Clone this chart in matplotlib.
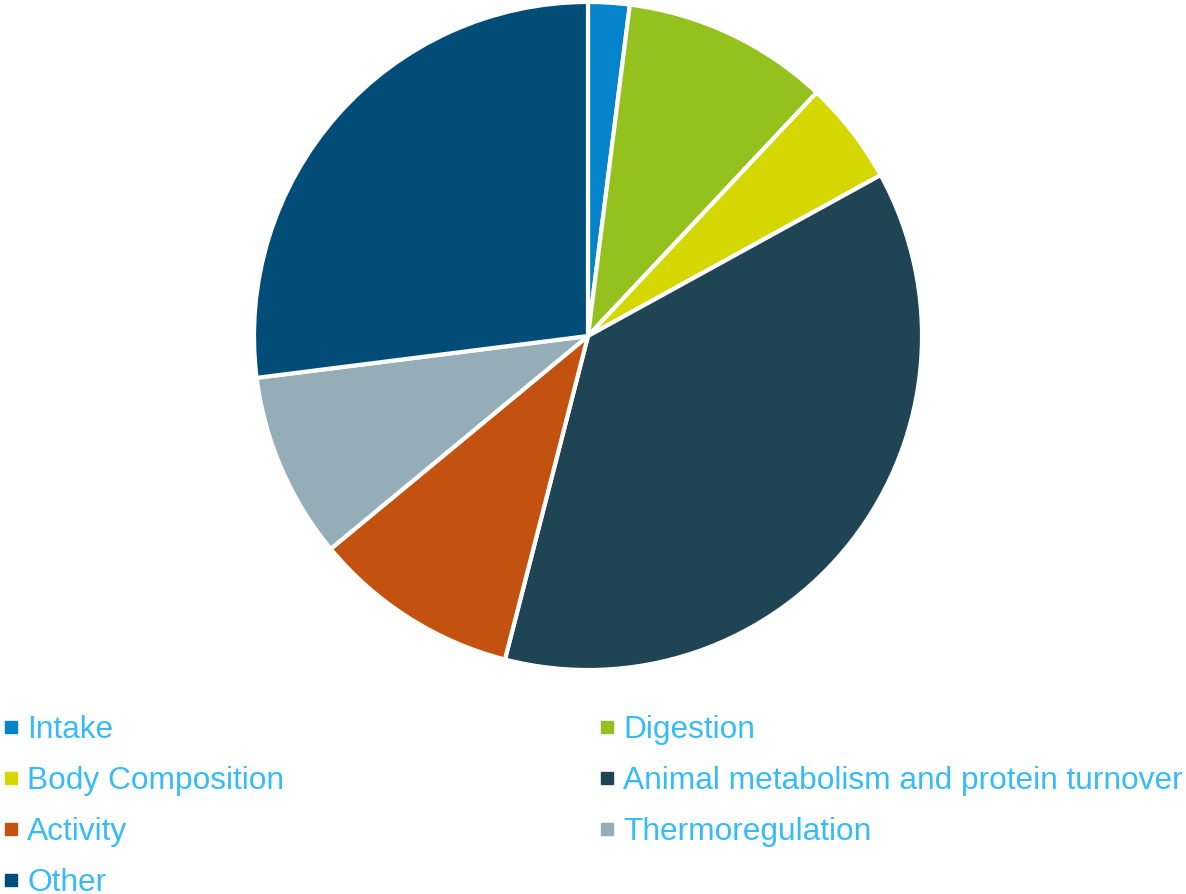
import matplotlib
matplotlib.use("Agg")
import matplotlib.pyplot as plt
from matplotlib.lines import Line2D

# Share of energy use by process (%)
categories = ["Intake", "Digestion", "Body Composition",
              "Animal metabolism and protein turnover", "Activity",
              "Thermoregulation", "Other"]
shares = [2, 10, 5, 37, 10, 9, 27]
colors = ["#0584cc", "#95c11f", "#d4d800", "#1f4454",
          "#c35211", "#94adb7", "#024d78"]

plt.rcParams["font.family"] = ["Liberation Sans", "DejaVu Sans"]

W, H = 1186, 894
fig = plt.figure(figsize=(W / 100, H / 100), dpi=100)

# Pie area: centre (588, 336) px, radius ~334 px
cx, cy, r = 588, 336, 334
ax = fig.add_axes([(cx - r) / W, 1 - (cy + r) / H, 2 * r / W, 2 * r / H])
wedges, _ = ax.pie(shares, colors=colors, startangle=90, counterclock=False,
                   radius=1.0,
                   wedgeprops=dict(edgecolor="white", linewidth=3))
ax.set_xlim(-1, 1)
ax.set_ylim(-1, 1)
ax.set_aspect("equal")
ax.axis("off")

# Legend: two columns, filled row by row
fs = 22.8
handles = [Line2D([0], [0], marker="s", linestyle="none", markersize=8.6,
                  markerfacecolor=c, markeredgecolor=c) for c in colors]
order = [0, 2, 4, 6, 1, 3, 5]
leg = fig.legend([handles[i] for i in order], [categories[i] for i in order],
                 ncol=2, mode="expand", loc="upper left",
                 bbox_to_anchor=(5 / W, 1 - 715 / H, 1178 / W, 0.0),
                 frameon=False, fontsize=fs, labelcolor="#36bbf9",
                 handlelength=0.38, handletextpad=0.32, labelspacing=0.66,
                 borderpad=0, borderaxespad=0)

fig.savefig("out.png", dpi=100, facecolor="white")
